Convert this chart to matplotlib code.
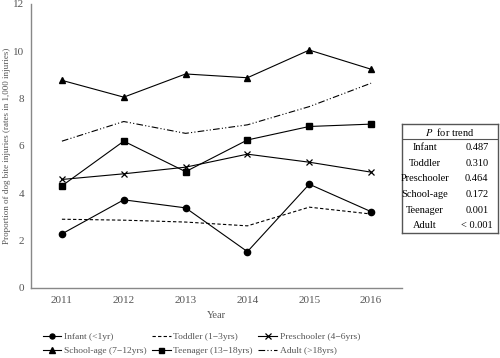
import matplotlib.pyplot as plt

plt.rcParams["font.family"] = ["Liberation Serif", "DejaVu Serif"]
plt.rcParams["mathtext.fontset"] = "stix"

years = ["2011", "2012", "2013", "2014", "2015", "2016"]
infant = [2.28, 3.72, 3.38, 1.53, 4.38, 3.22]
toddler = [2.90, 2.86, 2.78, 2.62, 3.41, 3.12]
preschooler = [4.58, 4.82, 5.10, 5.65, 5.31, 4.89]
school_age = [8.77, 8.06, 9.04, 8.88, 10.05, 9.24]
teenager = [4.31, 6.20, 4.91, 6.25, 6.82, 6.92]
adult = [6.20, 7.03, 6.53, 6.89, 7.66, 8.65]

trend_groups = ["Infant", "Toddler", "Preschooler", "School-age", "Teenager", "Adult"]
trend_p = ["0.487", "0.310", "0.464", "0.172", "0.001", "< 0.001"]

fig = plt.figure(figsize=(5, 3.58), dpi=100)
ax = fig.add_axes([0.062, 0.196, 0.742, 0.793])

x = range(len(years))
lw = 0.8
ax.plot(x, infant, color="black", lw=lw, marker="o", ms=4.5, label="Infant (<1yr)")
ax.plot(x, school_age, color="black", lw=lw, marker="^", ms=5, label="School-age (7\u221212yrs)")
ax.plot(x, toddler, color="black", lw=lw, ls=(0, (3, 2)), label="Toddler (1\u22123yrs)")
ax.plot(x, teenager, color="black", lw=lw, marker="s", ms=4.5, label="Teenager (13\u221218yrs)")
ax.plot(x, preschooler, color="black", lw=lw, marker="x", ms=5, mew=0.9, label="Preschooler (4\u22126yrs)")
ax.plot(x, adult, color="black", lw=lw, ls=(0, (6, 2, 1, 2, 1, 2)), label="Adult (>18yrs)")

ax.set_xlim(-0.5, 5.5)
ax.set_ylim(0, 12)
ax.set_xticks(list(x))
ax.set_xticklabels(years)
ax.set_yticks([0, 2, 4, 6, 8, 10, 12])
ax.tick_params(axis="x", length=0, labelsize=8, colors="#555555", pad=6)
ax.tick_params(axis="y", length=0, labelsize=8, colors="#555555", pad=5)
for s in ["top", "right"]:
    ax.spines[s].set_visible(False)
for s in ["left", "bottom"]:
    ax.spines[s].set_color("#888888")
    ax.spines[s].set_linewidth(1.0)
ax.set_xlabel("Year", fontsize=7.5, color="#555555", labelpad=4)
ax.set_ylabel("Proportion of dog bite injuries (rates in 1,000 injuries)", fontsize=6.5,
              color="#555555", labelpad=1.5)

leg = fig.legend(loc="lower left", bbox_to_anchor=(0.068, -0.015), ncol=3, frameon=False,
                 fontsize=6.8, handlelength=2.0, handletextpad=0.25, columnspacing=0.6,
                 labelspacing=0.55, markerscale=0.8)
for t in leg.get_texts():
    t.set_color("#555555")

# P for trend table
tab = fig.add_axes([0.803, 0.348, 0.192, 0.305])
tab.set_xlim(0, 1)
tab.set_ylim(7, 0)
tab.set_xticks([])
tab.set_yticks([])
for s in tab.spines.values():
    s.set_color("#555555")
    s.set_linewidth(1.0)
tab.axhline(0.96, color="#555555", lw=0.8)
tab.text(0.5, 0.5, "$P$  for trend", ha="center", va="center", fontsize=7.5)
for i, (g, p) in enumerate(zip(trend_groups, trend_p)):
    yy = 1.5 + i * 1.0
    tab.text(0.245, yy, g, ha="center", va="center", fontsize=7.5)
    tab.text(0.785, yy, p, ha="center", va="center", fontsize=7.5)

fig.savefig("out.png", dpi=100)
